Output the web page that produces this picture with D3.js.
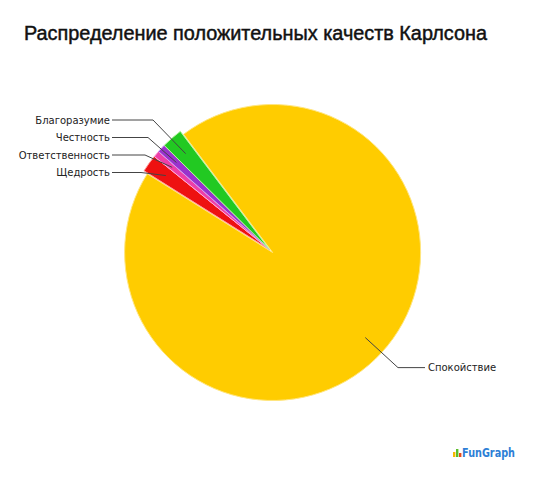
<!DOCTYPE html>
<html><head><meta charset="utf-8">
<script src="https://cdn.jsdelivr.net/npm/d3@7/dist/d3.min.js"></script>
<style>body{margin:0;background:#fff}svg{display:block}</style>
</head><body>
<script>
const title = "Распределение положительных качеств Карлсона";
const categories = ["Спокойствие", "Щедрость", "Ответственность", "Честность", "Благоразумие"];
const values = [94.2, 1.9, 0.7, 0.9, 2.3];
const colors = ["#ffcc00", "#ee1111", "#ee3fa8", "#9933cc", "#22c922"];
const strokes = ["#ffe680", "#ff9a9a", "#ffb0dd", "#d2a0f0", "#b8f5a0"];

const W = 539, H = 479;
const cx = 271, cy = 251, R = 148;
const svg = d3.select("body").append("svg").attr("width", W).attr("height", H);

svg.append("text").attr("x", 24).attr("y", 40)
  .attr("font-family", "Liberation Sans, Arial, sans-serif").attr("font-size", 19.5)
  .attr("stroke", "#111").attr("stroke-width", 0.45)
  .attr("textLength", 463).attr("lengthAdjust", "spacingAndGlyphs")
  .attr("fill", "#111").text(title);

const startA = -37 * Math.PI / 180;
const pie = d3.pie().sort(null).startAngle(startA).endAngle(startA + 2 * Math.PI);
const arcs = pie(values);
const arc = d3.arc().innerRadius(0).outerRadius(R);
const g = svg.append("g").attr("transform", `translate(${cx},${cy})`);

const smallMid = (arcs[1].startAngle + arcs[4].endAngle) / 2;
function off(i, d) {
  const a = i === 0 ? smallMid + Math.PI : smallMid;
  return [Math.sin(a) * d, -Math.cos(a) * d];
}

g.selectAll("path.slice").data(arcs).join("path")
  .attr("class", "slice")
  .attr("d", arc)
  .attr("transform", (d, i) => { const o = off(i, 2.2); return `translate(${o[0]},${o[1]})`; })
  .attr("fill", (d, i) => colors[i])
  .attr("stroke", (d, i) => strokes[i])
  .attr("stroke-width", 1);

const font = "DejaVu Sans, Verdana, sans-serif";
const leftLabelY = { "Благоразумие": 120, "Честность": 137.5, "Ответственность": 155, "Щедрость": 172.5 };
const leftElbowX = { "Благоразумие": 153, "Честность": 148, "Ответственность": 145, "Щедрость": 141 };

arcs.forEach((d, i) => {
  const name = categories[i];
  const mid = (d.startAngle + d.endAngle) / 2;
  const o = off(i, 2.2);
  const rIn = i === 0 ? 0.85 * R : 0.86 * R;
  const px = cx + o[0] + Math.sin(mid) * rIn, py = cy + o[1] - Math.cos(mid) * rIn;
  let pts, tx, ty, anchor;
  if (i === 0) {
    const ex = cx + Math.sin(mid) * 1.165 * R, ey = cy - Math.cos(mid) * 1.165 * R;
    pts = [[px, py], [ex, ey], [ex + 27, ey]];
    tx = ex + 30; ty = ey; anchor = "start";
  } else {
    const ly = leftLabelY[name], ex = leftElbowX[name];
    pts = [[px, py], [ex, ly], [112, ly]];
    tx = 110; ty = ly; anchor = "end";
  }
  svg.append("path").attr("d", d3.line()(pts)).attr("fill", "none")
    .attr("stroke", "#444").attr("stroke-width", 1);
  svg.append("text").attr("x", tx).attr("y", ty).attr("dy", "0.35em")
    .attr("text-anchor", anchor).attr("font-family", font).attr("font-size", 10)
    .attr("fill", "#222").text(name);
});

const wm = svg.append("g").attr("transform", "translate(453,447)");
[["#f5b800", 0, 5], ["#5bbf2a", 3, 2], ["#e84a1a", 6, 6]].forEach(b => {
  wm.append("rect").attr("x", b[1]).attr("y", b[2]).attr("width", 2.4).attr("height", 10 - b[2]).attr("fill", b[0]);
});
wm.append("text").attr("x", 9).attr("y", 10).attr("font-family", "DejaVu Sans, Verdana, sans-serif")
  .attr("font-weight", "bold").attr("font-size", 11.5).attr("textLength", 53).attr("lengthAdjust", "spacingAndGlyphs")
  .attr("fill", "#2d7fd6").text("FunGraph");
</script>
</body></html>
